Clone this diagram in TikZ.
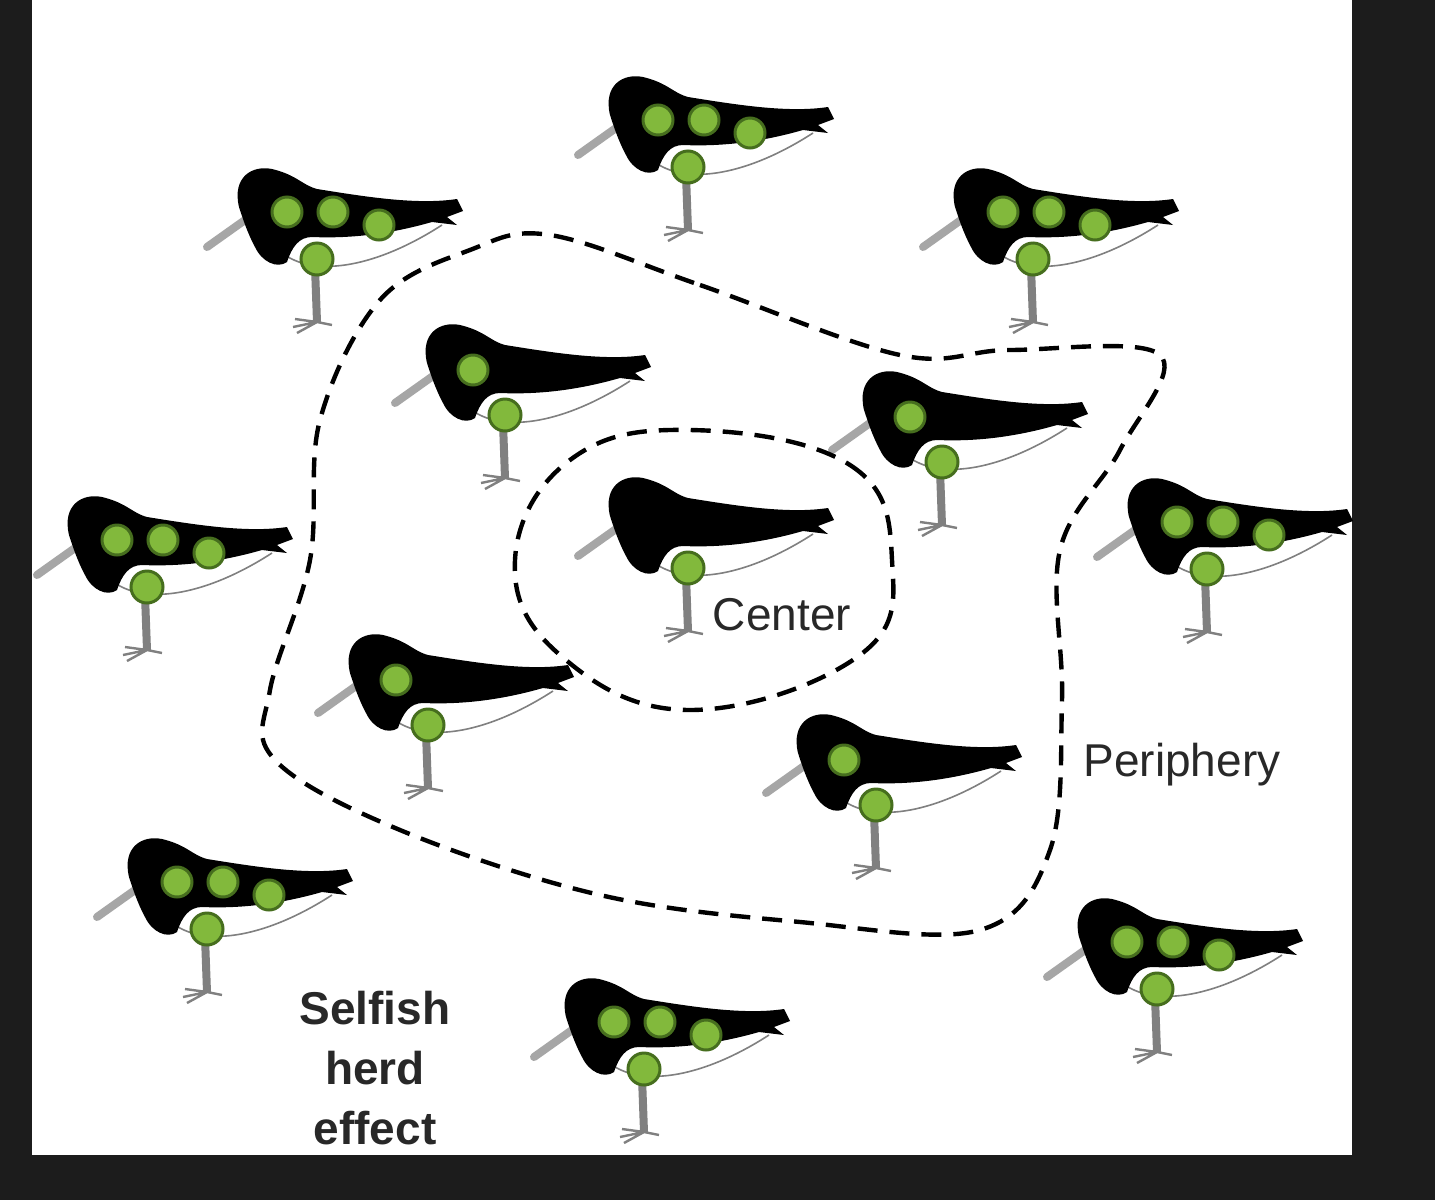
\documentclass[tikz,border=0pt]{standalone}
\usepackage{fontspec}
\setmainfont{Liberation Sans}
\definecolor{dotg}{RGB}{130,185,60}
\definecolor{dotd}{RGB}{70,110,30}
\definecolor{frame}{RGB}{28,28,28}
\definecolor{txt}{RGB}{40,40,40}
\begin{document}
\begin{tikzpicture}[x=0.5pt,y=-0.5pt,
  dot/.style={fill=dotg,draw=dotd,line width=1.5pt},
  contour/.style={line width=2.2pt,dash pattern=on 10pt off 6pt},
  lbl/.style={font=\fontsize{23}{27}\selectfont,text=txt},
  bird/.pic={
    \draw[gray!70,line width=4pt,line cap=round] (0,0) -- (38,-27);
    \draw[gray,line width=0.8pt] (78,8) .. controls (110,30) and (170,20) .. (235,-22);
    \draw[gray,line width=2pt] (110,20) -- (112,75) (106,20) -- (108,75);
    \draw[gray,line width=1.2pt] (110,75) -- (88,72) (110,75) -- (86,80) (110,75) -- (90,86) (110,75) -- (125,78);
    \fill[black] (32,-40) .. controls (25,-70) and (45,-82) .. (65,-78)
      .. controls (90,-72) and (95,-62) .. (110,-58)
      .. controls (160,-50) and (210,-42) .. (250,-48)
      -- (256,-36) -- (240,-30) -- (250,-22) -- (225,-25)
      .. controls (190,-15) and (150,-8) .. (105,-10)
      .. controls (92,-10) and (85,0) .. (80,15)
      .. controls (70,22) and (55,15) .. (48,0)
      .. controls (40,-15) and (36,-28) .. (32,-40) -- cycle;
  }]
\fill[frame] (0,0) rectangle (1435,1200);
\fill[white] (32,0) rectangle (1352,1155);
\foreach \x/\y/\n [count=\i] in {578/155/3,207/247/3,923/247/3,395/403/1,832/450/1,578/556/0,37/575/3,1097/557/3,318/713/1,766/793/1,97/917/3,1047/977/3,534/1057/3}{
  \pic (b\i) at (\x,\y) {bird};
  \ifnum\n=3
    \node[dot,circle,inner sep=0pt,minimum size=15pt] (b\i d1) at (\x+80,\y-35) {};
    \node[dot,circle,inner sep=0pt,minimum size=15pt] (b\i d2) at (\x+126,\y-35) {};
    \node[dot,circle,inner sep=0pt,minimum size=15pt] (b\i d3) at (\x+172,\y-22) {};
  \fi
  \ifnum\n=1
    \node[dot,circle,inner sep=0pt,minimum size=15pt] (b\i d1) at (\x+78,\y-33) {};
  \fi
  \node[dot,circle,inner sep=0pt,minimum size=16pt] (b\i n) at (\x+110,\y+12) {};
}
\draw[contour] plot[smooth cycle,tension=0.6] coordinates {(550,235) (700,285) (900,355) (1010,350) (1160,355) (1120,450) (1060,550) (1062,700) (1050,850) (980,930) (800,922) (600,895) (400,830) (275,760) (270,690) (310,560) (320,420) (380,300) (470,250)};
\draw[contour] plot[smooth cycle,tension=0.7] coordinates {(690,430) (850,465) (892,560) (860,655) (690,710) (560,655) (515,560) (570,460)};
\node[lbl] (center) at (782,615) {Center};
\node[lbl] (periph) at (1182,765) {Periphery};
\node[lbl,font=\fontsize{23}{30}\selectfont\bfseries,align=center] (selfish) at (375,1068) {Selfish\\herd\\effect};
\end{tikzpicture}
\end{document}
